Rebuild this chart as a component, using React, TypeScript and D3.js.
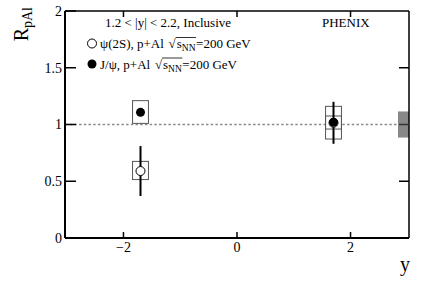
import React, { useEffect, useRef, useState } from "react";
import * as d3 from "d3";

const W = 436;
const H = 284;

// Data
const rapidity = [-1.7, 1.7];
const jpsiValues = [1.107, 1.02];
const jpsiStat = [0.03, 0.03];
const jpsiSystLo = [1.01, 0.96];
const jpsiSystHi = [1.21, 1.16];
const psi2sValues = [0.59, 1.015];
const psi2sStat = [0.22, 0.185];
const psi2sSystLo = [0.515, 0.872];
const psi2sSystHi = [0.675, 1.075];
const globalUnc = 0.115;
const yTicks = [0, 0.5, 1, 1.5, 2];
const yTickLabels = ["0", "0.5", "1", "1.5", "2"];
const rightTicks = [0.5, 1, 1.5];
const xTicks = [-2, 0, 2];
const xTickLabels = ["\u22122", "0", "2"];
const xDomain = [-3.03, 3.03];
const yDomain = [0, 2];

const FONT = "Liberation Serif, Times New Roman, serif";

const M = { left: 65, right: 409, top: 11, bottom: 238 };

function SqrtEntry({ x, y, prefix }: { x: number; y: number; prefix: string }) {
  const ref = useRef<SVGTextElement>(null);
  const [ov, setOv] = useState<{ x1: number; x2: number } | null>(null);
  useEffect(() => {
    const t = ref.current;
    if (!t) return;
    try {
      const iS = prefix.length + 1;
      const iN = prefix.length + 3;
      const x1 = t.getStartPositionOfChar(iS).x - 1;
      const x2 = t.getEndPositionOfChar(iN).x + 0.5;
      setOv({ x1, x2 });
    } catch (e) {}
  }, [prefix]);
  return (
    <g>
      <text ref={ref} x={x} y={y} fontFamily={FONT} fontSize={13} fill="#000">
        <tspan>{prefix}</tspan>
        <tspan dx={1.5}>{"\u221A"}</tspan>
        <tspan dx={1}>s</tspan>
        <tspan fontSize={9.5} dy={3}>NN</tspan>
        <tspan dy={-3} dx={0.5}>=200 GeV</tspan>
      </text>
      {ov && (
        <line x1={ov.x1} x2={ov.x2} y1={y - 10.5} y2={y - 10.5} stroke="#000" strokeWidth={0.8} />
      )}
    </g>
  );
}

export default function App() {
  const x = d3.scaleLinear().domain(xDomain).range([M.left, M.right]);
  const y = d3.scaleLinear().domain(yDomain).range([M.bottom, M.top]);
  const bw = x(0.14) - x(0);
  const r = 4.5;

  const lineRef = y(1);

  return (
    <svg
      width={W}
      height={H}
      style={{ position: "absolute", left: 0, top: 0, background: "#fff" }}
    >
      <rect x={0} y={0} width={W} height={H} fill="#fff" />
      {/* reference line at 1 */}
      <line
        x1={M.left}
        x2={M.right}
        y1={lineRef}
        y2={lineRef}
        stroke="#8a8a8a"
        strokeWidth={1.3}
        strokeDasharray="2.5,2.2"
      />
      {/* global uncertainty */}
      <rect
        x={M.right - 11}
        y={y(1 + globalUnc)}
        width={11}
        height={y(1 - globalUnc) - y(1 + globalUnc)}
        fill="#888"
      />
      {/* systematic boxes */}
      {rapidity.map((r0, i) => (
        <rect
          key={"pb" + i}
          x={x(r0) - bw}
          width={2 * bw}
          y={y(psi2sSystHi[i])}
          height={y(psi2sSystLo[i]) - y(psi2sSystHi[i])}
          fill="#fff"
          stroke="#555"
          strokeWidth={1}
        />
      ))}
      {rapidity.map((r0, i) => (
        <rect
          key={"jb" + i}
          x={x(r0) - bw}
          width={2 * bw}
          y={y(jpsiSystHi[i])}
          height={y(jpsiSystLo[i]) - y(jpsiSystHi[i])}
          fill={i === 1 ? "none" : "#fff"}
          stroke="#555"
          strokeWidth={1}
        />
      ))}
      {/* stat errors */}
      {rapidity.map((r0, i) => (
        <line
          key={"pe" + i}
          x1={x(r0)}
          x2={x(r0)}
          y1={y(psi2sValues[i] + psi2sStat[i])}
          y2={y(psi2sValues[i] - psi2sStat[i])}
          stroke="#000"
          strokeWidth={2}
        />
      ))}
      {rapidity.map((r0, i) => (
        <line
          key={"je" + i}
          x1={x(r0)}
          x2={x(r0)}
          y1={y(jpsiValues[i] + jpsiStat[i])}
          y2={y(jpsiValues[i] - jpsiStat[i])}
          stroke="#000"
          strokeWidth={2}
        />
      ))}
      {/* markers */}
      {rapidity.map((r0, i) => (
        <circle
          key={"pm" + i}
          cx={x(r0)}
          cy={y(psi2sValues[i])}
          r={r}
          fill="#fff"
          stroke="#000"
          strokeWidth={1}
        />
      ))}
      {rapidity.map((r0, i) => (
        <circle key={"jm" + i} cx={x(r0)} cy={y(jpsiValues[i])} r={r} fill="#000" />
      ))}

      {/* frame */}
      <line x1={M.left} x2={M.right} y1={M.top} y2={M.top} stroke="#000" strokeWidth={1.5} />
      <line x1={M.right} x2={M.right} y1={M.top} y2={M.bottom} stroke="#000" strokeWidth={1.5} />
      <line x1={M.left} x2={M.right} y1={M.bottom} y2={M.bottom} stroke="#000" strokeWidth={2} />
      <line x1={M.left} x2={M.left} y1={M.top} y2={M.bottom} stroke="#000" strokeWidth={2} />

      {/* y ticks */}
      {yTicks.map((t, i) => (
        <g key={"yt" + i}>
          <line x1={M.left} x2={M.left + 11} y1={y(t)} y2={y(t)} stroke="#000" strokeWidth={1.5} />
          <text
            x={M.left - 3}
            y={y(t)}
            dy="0.35em"
            textAnchor="end"
            fontFamily={FONT}
            fontSize={14}
          >
            {yTickLabels[i]}
          </text>
        </g>
      ))}
      {rightTicks.map((t, i) => (
        <line
          key={"rt" + i}
          x1={M.right - 10}
          x2={M.right}
          y1={y(t)}
          y2={y(t)}
          stroke={t === 1 ? "#333" : "#000"}
          strokeWidth={1.5}
        />
      ))}
      {/* x ticks */}
      {xTicks.map((t, i) => (
        <g key={"xt" + i}>
          <line x1={x(t)} x2={x(t)} y1={M.bottom} y2={M.bottom - 6} stroke="#000" strokeWidth={1.5} />
          <line x1={x(t)} x2={x(t)} y1={M.top} y2={M.top + 6} stroke="#000" strokeWidth={1.5} />
          <text
            x={x(t)}
            y={M.bottom + 14}
            textAnchor="middle"
            fontFamily={FONT}
            fontSize={14}
          >
            {xTickLabels[i]}
          </text>
        </g>
      ))}

      {/* axis titles */}
      <text
        transform="translate(28,7) rotate(-90)"
        textAnchor="end"
        fontFamily={FONT}
        fontSize={20}
      >
        R<tspan fontSize={14} dy={4}>pAl</tspan>
      </text>
      <text x={410} y={271} textAnchor="end" fontFamily={FONT} fontSize={20}>
        y
      </text>

      {/* legend */}
      <text x={105} y={27} fontFamily={FONT} fontSize={13}>
        1.2 &lt; |y| &lt; 2.2, Inclusive
      </text>
      <text x={322} y={27} fontFamily={FONT} fontSize={13}>
        PHENIX
      </text>
      <circle cx={92} cy={43.5} r={r} fill="#fff" stroke="#000" strokeWidth={1} />
      <SqrtEntry x={100} y={48} prefix={"\u03C8(2S), p+Al "} />
      <circle cx={92} cy={64} r={r} fill="#000" />
      <SqrtEntry x={100} y={68.5} prefix={"J/\u03C8, p+Al "} />
    </svg>
  );
}
